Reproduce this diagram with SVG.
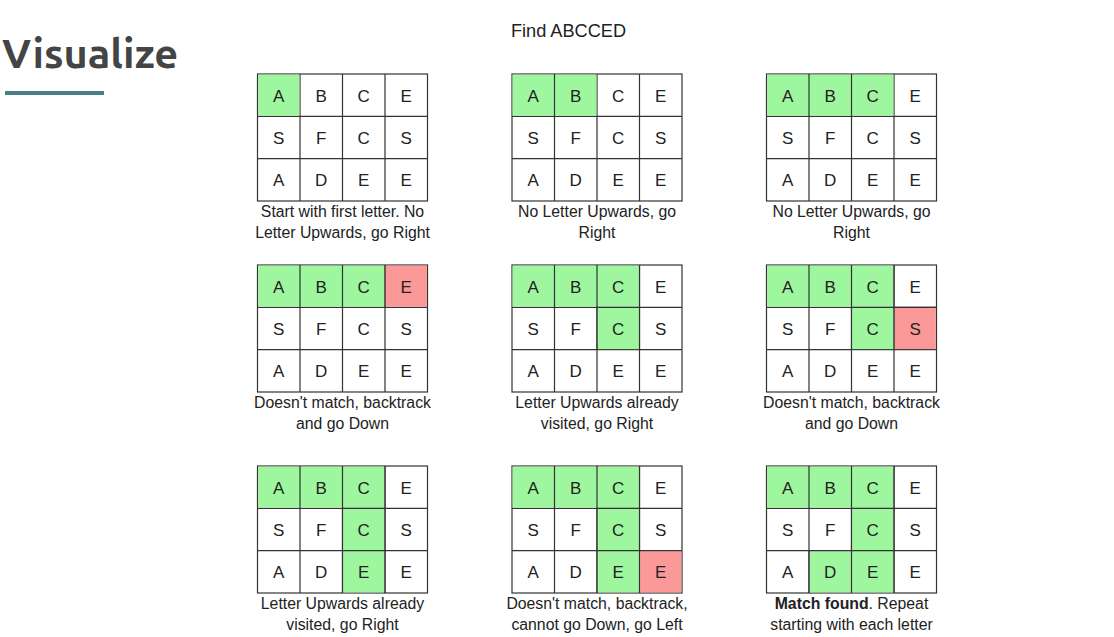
<svg xmlns="http://www.w3.org/2000/svg" width="1114" height="637" viewBox="0 0 1114 637">
<style>
.cell{fill:#fff;stroke:#333;stroke-width:1.2}
.g{fill:#9ef79e}
.r{fill:#fb9898}
.lt{font-family:"Liberation Sans",Arial,sans-serif;font-size:17px;fill:#222;text-anchor:middle}
.cap{font-family:"Liberation Sans",Arial,sans-serif;font-size:15.8px;fill:#222;text-anchor:middle}
</style>
<defs>
<g id="grid">
<rect class="cell" x="0" y="0" width="170" height="127"/>
<path d="M42.5 0V127M85 0V127M127.5 0V127M0 42.3H170M0 84.7H170" stroke="#333" stroke-width="1.2" fill="none"/>
</g>
<g id="letters">
<text class="lt" x="21.25" y="27.5">A</text><text class="lt" x="63.75" y="27.5">B</text><text class="lt" x="106.25" y="27.5">C</text><text class="lt" x="148.75" y="27.5">E</text>
<text class="lt" x="21.25" y="69.8">S</text><text class="lt" x="63.75" y="69.8">F</text><text class="lt" x="106.25" y="69.8">C</text><text class="lt" x="148.75" y="69.8">S</text>
<text class="lt" x="21.25" y="112.2">A</text><text class="lt" x="63.75" y="112.2">D</text><text class="lt" x="106.25" y="112.2">E</text><text class="lt" x="148.75" y="112.2">E</text>
</g>
</defs>
<rect width="1114" height="637" fill="#fff"/>
<text x="2" y="68" font-family="Ubuntu,'Open Sans',sans-serif" font-weight="bold" font-size="41.5" fill="#444">Visualize</text>
<rect x="5" y="91" width="99" height="4" fill="#4b7f87"/>
<text x="568.5" y="37" font-family="Liberation Sans,Arial,sans-serif" font-size="18.2" fill="#222" text-anchor="middle">Find ABCCED</text>

<g id="step1" transform="translate(257.5,74)">
<use href="#grid"/>
<rect class="g" x="0.6" y="0.6" width="41.3" height="41.1"/>
<use href="#letters"/>
<text class="cap" x="85" y="143">Start with first letter. No</text>
<text class="cap" x="85" y="164">Letter Upwards, go Right</text>
</g>
<g id="step2" transform="translate(512,74)">
<use href="#grid"/>
<rect class="g" x="0.6" y="0.6" width="83.8" height="41.1"/>
<path d="M42.5 0V42.3" stroke="#333" stroke-width="1.2"/>
<use href="#letters"/>
<text class="cap" x="85" y="143">No Letter Upwards, go</text>
<text class="cap" x="85" y="164">Right</text>
</g>
<g id="step3" transform="translate(766.5,74)">
<use href="#grid"/>
<rect class="g" x="0.6" y="0.6" width="126.3" height="41.1"/>
<path d="M42.5 0V42.3M85 0V42.3" stroke="#333" stroke-width="1.2"/>
<use href="#letters"/>
<text class="cap" x="85" y="143">No Letter Upwards, go</text>
<text class="cap" x="85" y="164">Right</text>
</g>

<g id="step4" transform="translate(257.5,265)">
<use href="#grid"/>
<rect class="g" x="0.6" y="0.6" width="126.3" height="41.1"/>
<rect class="r" x="128.1" y="0.6" width="41.3" height="41.1"/>
<path d="M42.5 0V42.3M85 0V42.3M127.5 0V42.3" stroke="#333" stroke-width="1.2"/>
<use href="#letters"/>
<text class="cap" x="85" y="143">Doesn't match, backtrack</text>
<text class="cap" x="85" y="164">and go Down</text>
</g>
<g id="step5" transform="translate(512,265)">
<use href="#grid"/>
<rect class="g" x="0.6" y="0.6" width="126.3" height="41.1"/>
<rect class="g" x="85.6" y="42.9" width="41.3" height="41.2"/>
<path d="M42.5 0V42.3M85 0V84.7M127.5 0V84.7M85 42.3H127.5" stroke="#333" stroke-width="1.2"/>
<use href="#letters"/>
<text class="cap" x="85" y="143">Letter Upwards already</text>
<text class="cap" x="85" y="164">visited, go Right</text>
</g>
<g id="step6" transform="translate(766.5,265)">
<use href="#grid"/>
<rect class="g" x="0.6" y="0.6" width="126.3" height="41.1"/>
<rect class="g" x="85.6" y="42.9" width="41.3" height="41.2"/>
<rect class="r" x="128.1" y="42.9" width="41.3" height="41.2"/>
<path d="M42.5 0V42.3M85 0V84.7M127.5 0V84.7M85 42.3H170" stroke="#333" stroke-width="1.2"/>
<use href="#letters"/>
<text class="cap" x="85" y="143">Doesn't match, backtrack</text>
<text class="cap" x="85" y="164">and go Down</text>
</g>

<g id="step7" transform="translate(257.5,466)">
<use href="#grid"/>
<rect class="g" x="0.6" y="0.6" width="126.3" height="41.1"/>
<rect class="g" x="85.6" y="42.9" width="41.3" height="83.5"/>
<path d="M42.5 0V42.3M85 0V127M127.5 0V127M85 42.3H127.5M85 84.7H127.5" stroke="#333" stroke-width="1.2"/>
<use href="#letters"/>
<text class="cap" x="85" y="143">Letter Upwards already</text>
<text class="cap" x="85" y="164">visited, go Right</text>
</g>
<g id="step8" transform="translate(512,466)">
<use href="#grid"/>
<rect class="g" x="0.6" y="0.6" width="126.3" height="41.1"/>
<rect class="g" x="85.6" y="42.9" width="41.3" height="83.5"/>
<rect class="r" x="128.1" y="85.3" width="41.3" height="41.1"/>
<path d="M42.5 0V42.3M85 0V127M127.5 0V127M85 42.3H127.5M85 84.7H170" stroke="#333" stroke-width="1.2"/>
<use href="#letters"/>
<text class="cap" x="85" y="143">Doesn't match, backtrack,</text>
<text class="cap" x="85" y="164">cannot go Down, go Left</text>
</g>
<g id="step9" transform="translate(766.5,466)">
<use href="#grid"/>
<rect class="g" x="0.6" y="0.6" width="126.3" height="41.1"/>
<rect class="g" x="85.6" y="42.9" width="41.3" height="83.5"/>
<rect class="g" x="43.1" y="85.3" width="41.3" height="41.1"/>
<path d="M42.5 0V42.3M42.5 84.7V127M85 0V127M127.5 0V127M85 42.3H127.5M42.5 84.7H127.5" stroke="#333" stroke-width="1.2"/>
<use href="#letters"/>
<text class="cap" x="85" y="143"><tspan font-weight="bold">Match found</tspan>. Repeat</text>
<text class="cap" x="85" y="164">starting with each letter</text>
</g>
</svg>
